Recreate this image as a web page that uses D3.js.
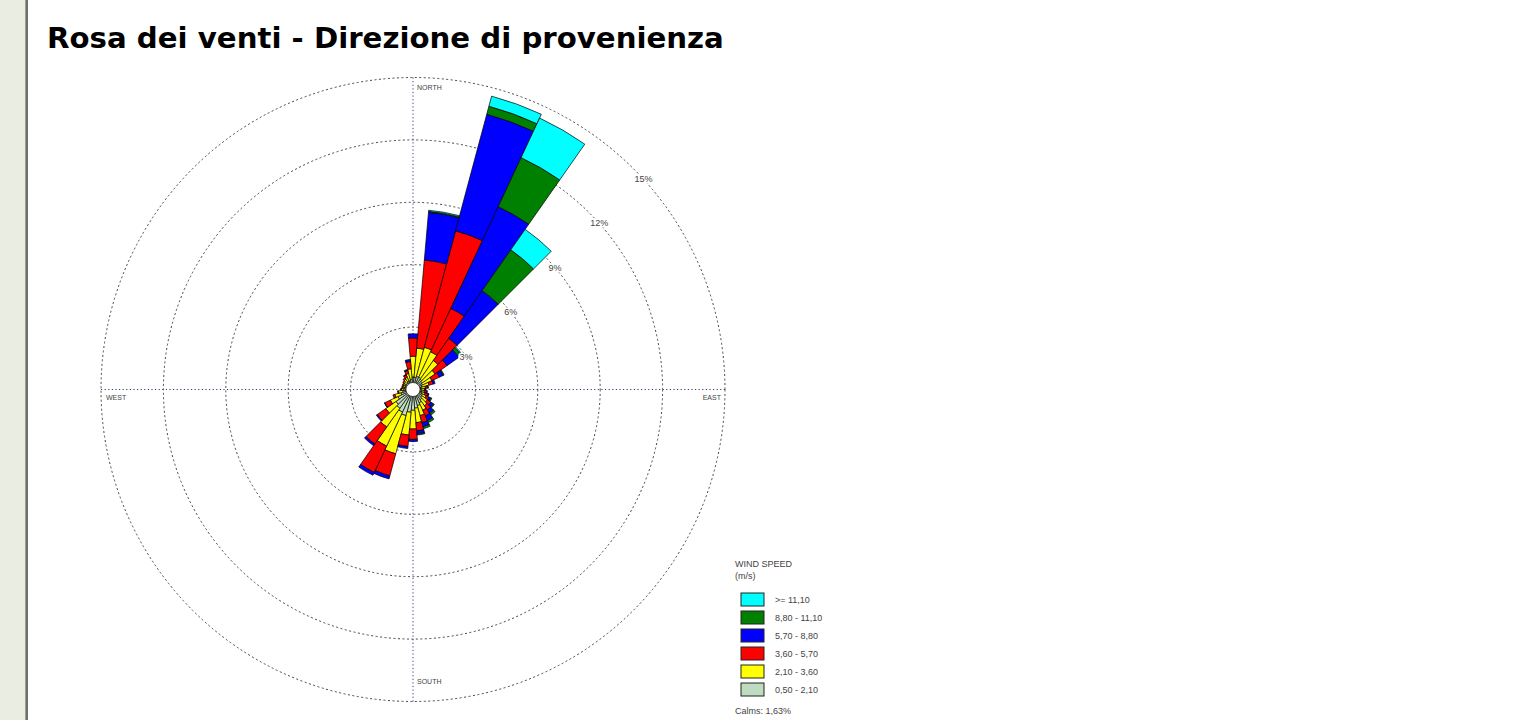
<!DOCTYPE html>
<html>
<head>
<meta charset="utf-8">
<script src="https://cdn.jsdelivr.net/npm/d3@7"></script>
<style>
  html, body { margin: 0; padding: 0; background: #fff; }
  svg { display: block; }
</style>
</head>
<body>
<svg id="chart" width="1526" height="720"></svg>
<script>
// Wind directions (degrees, sector centres)
const directions = [0, 10, 20, 30, 40, 50, 60, 70, 80, 90, 100, 110, 120, 130, 140, 150, 160, 170,
                    180, 190, 200, 210, 220, 230, 240, 250, 260, 270, 280, 290, 300, 310, 320, 330, 340, 350];

// Frequency (%) per direction for each speed class
const speed050_210 = [0.6, 0.6, 0.65, 0.65, 0.6, 0.55, 0.5, 0.45, 0.4, 0.4, 0.42, 0.45, 0.5, 0.55, 0.6, 0.7, 0.8, 0.9,
                      1.0, 1.1, 1.3, 1.2, 1.1, 1.0, 0.8, 0.6, 0.5, 0.45, 0.42, 0.4, 0.4, 0.4, 0.42, 0.45, 0.45, 0.5];
const speed210_360 = [1.0, 1.4, 1.45, 1.35, 1.1, 0.75, 0.5, 0.35, 0.2, 0.15, 0.13, 0.15, 0.2, 0.3, 0.35, 0.4, 0.5, 0.7,
                      0.9, 1.1, 1.9, 1.8, 1.1, 0.6, 0.4, 0.3, 0.2, 0.1, 0.08, 0.1, 0.1, 0.15, 0.18, 0.2, 0.35, 0.5];
const speed360_570 = [0.88, 4.25, 5.8, 2.3, 1.3, 0.7, 0.4, 0.2, 0.1, 0.05, 0.1, 0.15, 0.15, 0.2, 0.25, 0.3, 0.35, 0.4,
                      0.5, 0.55, 1.1, 1.4, 1.0, 0.5, 0.3, 0.1, 0.05, 0.05, 0.05, 0.05, 0.05, 0.05, 0.08, 0.13, 0.15, 0.35];
const speed570_880 = [0.2, 2.3, 5.8, 5.4, 2.8, 0.7, 0.2, 0.1, 0.05, 0.02, 0.05, 0.05, 0.1, 0.15, 0.2, 0.25, 0.2, 0.15,
                      0.1, 0.1, 0.15, 0.15, 0.1, 0.05, 0.02, 0, 0, 0, 0, 0, 0, 0, 0, 0.02, 0.05, 0.1];
const speed880_1110 = [0, 0.05, 0.4, 2.6, 2.4, 0.15, 0.05, 0, 0, 0, 0, 0, 0.05, 0.05, 0.1, 0.1, 0.1, 0.05,
                       0, 0, 0, 0, 0, 0, 0, 0, 0, 0, 0, 0, 0, 0, 0, 0, 0, 0];
const speed1110 = [0, 0.05, 0.5, 2.1, 1.2, 0.05, 0, 0, 0, 0, 0, 0, 0, 0, 0, 0, 0, 0,
                   0, 0, 0, 0, 0, 0, 0, 0, 0, 0, 0, 0, 0, 0, 0, 0, 0, 0];

const speedLabels = ['0,50 - 2,10', '2,10 - 3,60', '3,60 - 5,70', '5,70 - 8,80', '8,80 - 11,10', '>= 11,10'];
const speedColors = ['#c0dcc0', '#ffff00', '#ff0000', '#0000ff', '#008000', '#00ffff'];
const ringTicks = [3, 6, 9, 12, 15];
const compassLabels = ['NORTH', 'EAST', 'SOUTH', 'WEST'];
const calms = '1,63%';

const series = [speed050_210, speed210_360, speed360_570, speed570_880, speed880_1110, speed1110];
const keys = speedLabels.map((d, i) => 'k' + i);
const table = directions.map((dir, j) => {
    const row = { dir: dir };
    keys.forEach((k, i) => row[k] = series[i][j]);
    return row;
});

const svg = d3.select('#chart');

// page chrome: left strip
svg.append('rect').attr('x', 0).attr('y', 0).attr('width', 25).attr('height', 720).attr('fill', '#eaeee2');
svg.append('rect').attr('x', 25).attr('y', 0).attr('width', 1).attr('height', 720).attr('fill', '#9a9d92');
svg.append('rect').attr('x', 26).attr('y', 0).attr('width', 2).attr('height', 720).attr('fill', '#6f726a');

// title, sized to span the same width as the original
const title = svg.append('text')
    .attr('x', 47).attr('y', 48)
    .attr('font-family', 'DejaVu Sans, Verdana, sans-serif')
    .attr('font-weight', 'bold')
    .attr('font-size', 24)
    .attr('fill', '#000')
    .text('Rosa dei venti - Direzione di provenienza');
const tw = title.node().getComputedTextLength();
title.attr('font-size', 24 * 677 / tw);

const cx = 413, cy = 389.5;
const r = d3.scaleLinear().domain([0, 15]).range([0, 312]);
const hole = 7;

const g = svg.append('g').attr('transform', `translate(${cx},${cy})`);

// rings
g.selectAll('.ring')
    .data(ringTicks)
  .enter().append('circle')
    .attr('class', 'ring')
    .attr('r', d => r(d))
    .attr('fill', 'none')
    .attr('stroke', '#444')
    .attr('stroke-width', 1)
    .attr('stroke-dasharray', '2,2.5');

// axes
const R = r(15);
g.append('line').attr('x1', 0).attr('x2', 0).attr('y1', -R).attr('y2', R)
    .attr('stroke', '#3c3c7a').attr('stroke-width', 1).attr('stroke-dasharray', '1.2,2.4');
g.append('line').attr('x1', -R).attr('x2', R).attr('y1', 0).attr('y2', 0)
    .attr('stroke', '#3c3c7a').attr('stroke-width', 1).attr('stroke-dasharray', '1.2,2.4');

// stacked petals
const stack = d3.stack().keys(keys);
const layers = stack(table);
const half = 5 * Math.PI / 180;
const arc = d3.arc();

layers.forEach((layer, i) => {
    g.append('g')
        .selectAll('path')
        .data(layer.filter(d => d[1] - d[0] > 0))
      .enter().append('path')
        .attr('d', d => arc({
            innerRadius: Math.max(hole, r(d[0])),
            outerRadius: Math.max(hole, r(d[1])),
            startAngle: d.data.dir * Math.PI / 180 - half,
            endAngle: d.data.dir * Math.PI / 180 + half
        }))
        .attr('fill', speedColors[i])
        .attr('stroke', '#000')
        .attr('stroke-width', 0.7)
        .attr('stroke-linejoin', 'round');
});

g.append('circle').attr('r', hole).attr('fill', '#fff').attr('stroke', '#222').attr('stroke-width', 0.7);

// ring labels along an offset diagonal
const k = 20;
g.selectAll('.ring-label')
    .data(ringTicks)
  .enter().append('text')
    .attr('class', 'ring-label')
    .attr('x', d => (k + Math.sqrt(2 * r(d) * r(d) - k * k)) / 2)
    .attr('y', d => -((k + Math.sqrt(2 * r(d) * r(d) - k * k)) / 2 - k))
    .attr('dy', '0.35em')
    .attr('text-anchor', 'middle')
    .attr('font-family', 'Liberation Sans, Arial, sans-serif')
    .attr('font-size', 9)
    .attr('fill', '#444')
    .attr('stroke', '#fff')
    .attr('stroke-width', 3)
    .attr('paint-order', 'stroke')
    .text(d => d + '%');

// compass labels
const compassPos = [
    { x: 4, y: -R + 12, anchor: 'start' },
    { x: R - 4, y: 10, anchor: 'end' },
    { x: 4, y: R - 18, anchor: 'start' },
    { x: -R + 5, y: 10, anchor: 'start' }
];
g.selectAll('.compass')
    .data(compassLabels)
  .enter().append('text')
    .attr('class', 'compass')
    .attr('x', (d, i) => compassPos[i].x)
    .attr('y', (d, i) => compassPos[i].y)
    .attr('text-anchor', (d, i) => compassPos[i].anchor)
    .attr('font-family', 'Liberation Sans, Arial, sans-serif')
    .attr('font-size', 7)
    .attr('fill', '#444')
    .text(d => d);

// legend
const lg = svg.append('g').attr('transform', 'translate(735,560)')
    .attr('font-family', 'Liberation Sans, Arial, sans-serif')
    .attr('font-size', 9)
    .attr('fill', '#444');
lg.append('text').attr('x', 0).attr('y', 7).text('WIND SPEED');
lg.append('text').attr('x', 0).attr('y', 19).text('(m/s)');

const legendItems = speedLabels.map((d, i) => ({ label: d, color: speedColors[i] })).reverse();
const rows = lg.selectAll('.item')
    .data(legendItems)
  .enter().append('g')
    .attr('class', 'item')
    .attr('transform', (d, i) => `translate(6,${33 + i * 18})`);
rows.append('rect')
    .attr('width', 23).attr('height', 13)
    .attr('fill', d => d.color)
    .attr('stroke', '#222').attr('stroke-width', 1);
rows.append('text')
    .attr('x', 34).attr('y', 10)
    .text(d => d.label);
lg.append('text').attr('x', 0).attr('y', 154).text('Calms: ' + calms);
</script>
</body>
</html>
